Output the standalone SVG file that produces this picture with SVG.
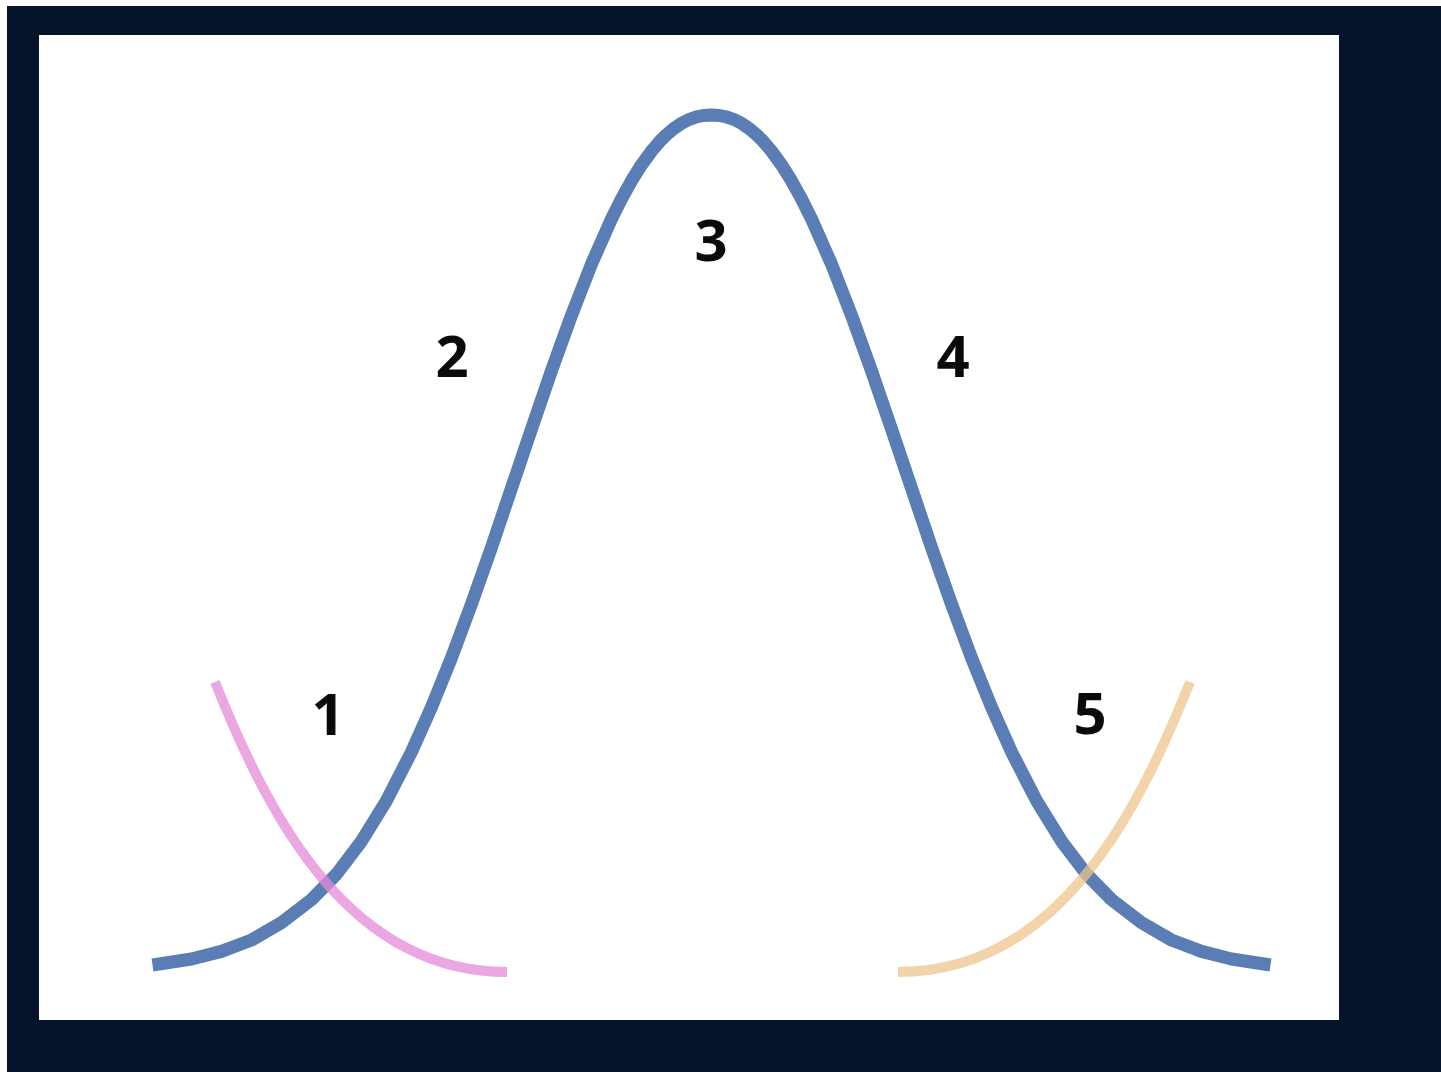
<svg xmlns="http://www.w3.org/2000/svg" width="1441" height="1072" viewBox="0 0 1441 1072">
<style>
.curve{fill:none;stroke-linecap:butt;stroke-linejoin:round}
.lbl{font-family:"Open Sans","Liberation Sans",sans-serif;font-weight:bold;font-size:58px;fill:#0a0a0a;text-anchor:middle}
</style>
<rect x="0" y="0" width="1441" height="1072" fill="#ffffff"/>
<rect x="7" y="6" width="1434" height="1066" fill="#04132a"/>
<rect x="39" y="35" width="1300" height="985" fill="#ffffff"/>
<g id="connectors">
<polyline id="blue-curve" class="curve" stroke="#5a7db6" stroke-width="13" points="152.5,965 191.5,959 221.5,951.4 251.5,940 281.5,922.7 311.5,899.6 336.5,874.1 361.5,841.2 386.5,800.6 411.5,751.9 431.5,707.1 451.5,657.7 471.5,604 491.5,547.3 511.5,488.1 531.5,429 551.5,370.7 571.5,315.3 591.5,264 611.5,218.9 621.5,198.9 631.5,180.8 641.5,164.8 651.5,151.1 659.5,141.7 666.5,134.7 674.5,128.1 681.5,123.3 689.5,119.3 696.5,116.9 703.5,115.5 711.5,115 719.5,115.5 726.5,116.9 733.5,119.3 741.5,123.3 748.5,128.1 756.5,134.7 763.5,141.7 771.5,151.1 781.5,164.8 791.5,180.8 801.5,198.9 811.5,218.9 831.5,264 851.5,315.3 871.5,370.7 891.5,429 911.5,488.1 931.5,547.3 951.5,604 971.5,657.7 991.5,707.1 1011.5,751.9 1036.5,800.6 1061.5,841.2 1086.5,874.1 1111.5,899.6 1141.5,922.7 1171.5,940 1201.5,951.4 1231.5,959 1270.5,965"/>
<path id="pink-curve" class="curve" stroke="#e48ad8" stroke-opacity="0.75" stroke-width="10" d="M215,682 C270,820 350,972 507,972"/>
<path id="orange-curve" class="curve" stroke="#efc48e" stroke-opacity="0.75" stroke-width="10" d="M1190,682 C1135,820 1055,972 898,972"/>
</g>
<g id="label-1"><text class="lbl" x="328" y="735">1</text></g>
<g id="label-2"><text class="lbl" x="452" y="377">2</text></g>
<g id="label-3"><text class="lbl" x="711" y="261">3</text></g>
<g id="label-4"><text class="lbl" x="953" y="377">4</text></g>
<g id="label-5"><text class="lbl" x="1090" y="734">5</text></g>
</svg>
